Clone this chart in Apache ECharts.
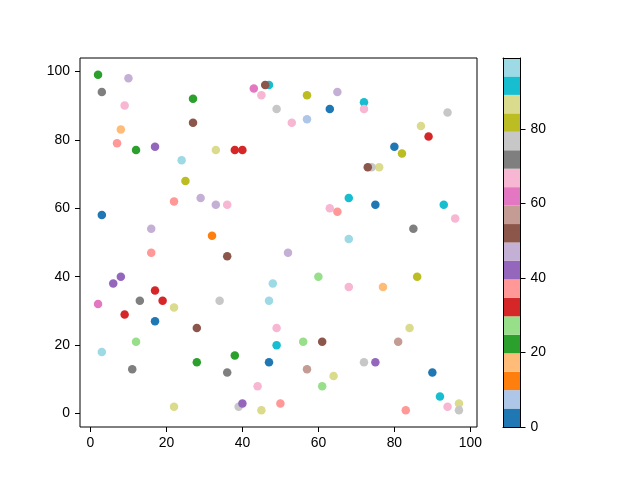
<!DOCTYPE html>
<html>
<head>
<meta charset="utf-8">
<script src="https://cdn.jsdelivr.net/npm/echarts@6/dist/echarts.min.js"></script>
<style>
html, body { margin: 0; padding: 0; background: #fff; }
#chart { width: 640px; height: 480px; }
</style>
</head>
<body>
<div id="chart"></div>
<script>
// scatter points (x, y, colour value 0..99)
var xValues = [2, 3, 10, 9, 27, 8, 27, 7, 12, 17, 33, 24, 25, 22, 29, 33, 3, 16, 32, 43,
               47, 46, 45, 57, 65, 49, 63, 53, 57, 38, 40, 36, 63, 65, 68, 68, 72, 72, 94, 87,
               89, 80, 82, 76, 74, 73, 75, 93, 96, 85, 16, 8, 6, 2, 13, 17, 19, 22, 9, 17,
               28, 34, 12, 3, 11, 28, 22, 36, 52, 60, 48, 68, 47, 49, 49, 56, 61, 38, 47, 36,
               57, 64, 61, 44, 39, 40, 45, 50, 86, 77, 84, 81, 72, 75, 90, 92, 94, 97, 97, 83];
var yValues = [99, 94, 98, 90, 92, 83, 85, 79, 77, 78, 77, 74, 68, 62, 63, 61, 58, 54, 52, 95,
               96, 96, 93, 93, 94, 89, 89, 85, 86, 77, 77, 61, 60, 59, 63, 51, 91, 89, 88, 84,
               81, 78, 76, 72, 72, 72, 61, 61, 57, 54, 47, 40, 38, 32, 33, 36, 33, 31, 29, 27,
               25, 33, 21, 18, 13, 15, 2, 46, 47, 40, 38, 37, 33, 25, 20, 21, 21, 17, 15, 12,
               13, 11, 8, 8, 2, 3, 1, 3, 40, 37, 25, 21, 15, 15, 12, 5, 2, 3, 1, 1];
var colorValues = [22, 72, 47, 67, 22, 17, 52, 37, 22, 42, 87, 97, 82, 37, 47, 47, 2, 47, 12, 62,
                   92, 52, 67, 82, 47, 77, 2, 67, 7, 32, 32, 67, 67, 37, 92, 97, 92, 67, 77, 87,
                   32, 2, 82, 87, 77, 52, 2, 92, 67, 72, 37, 42, 42, 62, 72, 32, 32, 87, 32, 2,
                   52, 77, 27, 97, 72, 22, 87, 52, 47, 27, 97, 67, 97, 67, 92, 27, 52, 22, 2, 72,
                   57, 87, 27, 67, 77, 42, 87, 37, 82, 17, 87, 57, 77, 42, 2, 92, 67, 87, 77, 37];

var xTicks = [0, 20, 40, 60, 80, 100];
var yTicks = [0, 20, 40, 60, 80, 100];
var cbarTicks = [0, 20, 40, 60, 80];
var cMin = 0, cMax = 99;

var tab20 = ['#1f77b4', '#aec7e8', '#ff7f0e', '#ffbb78', '#2ca02c', '#98df8a', '#d62728', '#ff9896',
             '#9467bd', '#c5b0d5', '#8c564b', '#c49c94', '#e377c2', '#f7b6d2', '#7f7f7f', '#c7c7c7',
             '#bcbd22', '#dbdb8d', '#17becf', '#9edae5'];

function colorOf(c) {
    var k = Math.floor((c - cMin) / (cMax - cMin) * tab20.length);
    if (k > tab20.length - 1) k = tab20.length - 1;
    if (k < 0) k = 0;
    return tab20[k];
}

// matplotlib style 5% margins
function padded(arr) {
    var lo = Math.min.apply(null, arr), hi = Math.max.apply(null, arr);
    var m = (hi - lo) * 0.05;
    return [lo - m, hi + m];
}
var xr = padded(xValues), yr = padded(yValues);

var points = [];
for (var i = 0; i < xValues.length; i++) {
    points.push({ value: [xValues[i], yValues[i], colorValues[i]], itemStyle: { color: colorOf(colorValues[i]), opacity: 1 } });
}

var bands = [];
for (var k = 0; k < tab20.length; k++) {
    bands.push([0.5, cMin + (cMax - cMin) * k / tab20.length, cMin + (cMax - cMin) * (k + 1) / tab20.length, k]);
}

var font = { fontFamily: 'Liberation Sans', fontSize: 13.9, color: '#000' };
var line = { show: true, onZero: false, lineStyle: { color: '#000', width: 1 } };
var noLine = { show: false, onZero: false };
var tick = { show: true, length: 5, lineStyle: { color: '#000', width: 1 } };

var chart = echarts.init(document.getElementById('chart'), null, { renderer: 'canvas' });
chart.setOption({
    animation: false,
    backgroundColor: '#fff',
    grid: [
        { left: 80, top: 58, width: 397, height: 369, show: true, borderColor: '#000', borderWidth: 1, backgroundColor: 'transparent' },
        { left: 503, top: 58, width: 17.5, height: 369 }
    ],
    xAxis: [
        {
            gridIndex: 0, type: 'value', min: xr[0], max: xr[1], position: 'bottom',
            axisLine: noLine, splitLine: { show: false },
            axisTick: Object.assign({ customValues: xTicks }, tick),
            axisLabel: Object.assign({ customValues: xTicks, margin: 9 }, font)
        },
        { gridIndex: 1, type: 'value', min: 0, max: 1, position: 'bottom', z: 10,
          axisLine: line, axisTick: { show: false }, axisLabel: { show: false }, splitLine: { show: false } },
        { gridIndex: 1, type: 'value', min: 0, max: 1, position: 'top', z: 10,
          axisLine: line, axisTick: { show: false }, axisLabel: { show: false }, splitLine: { show: false } }
    ],
    yAxis: [
        {
            gridIndex: 0, type: 'value', min: yr[0], max: yr[1], position: 'left',
            axisLine: noLine, splitLine: { show: false },
            axisTick: Object.assign({ customValues: yTicks }, tick),
            axisLabel: Object.assign({ customValues: yTicks, margin: 10 }, font)
        },
        {
            gridIndex: 1, type: 'value', min: cMin, max: cMax, position: 'right', z: 10,
            axisLine: line, splitLine: { show: false },
            axisTick: Object.assign({ customValues: cbarTicks }, tick),
            axisLabel: Object.assign({ customValues: cbarTicks, margin: 10 }, font)
        },
        { gridIndex: 1, type: 'value', min: cMin, max: cMax, position: 'left', z: 10,
          axisLine: line, axisTick: { show: false }, axisLabel: { show: false }, splitLine: { show: false } }
    ],
    series: [
        {
            type: 'scatter',
            xAxisIndex: 0, yAxisIndex: 0,
            symbolSize: 8.5,
            data: points,
            emphasis: { disabled: true },
            silent: true
        },
        {
            type: 'custom',
            xAxisIndex: 1, yAxisIndex: 1,
            encode: { x: 0, y: [1, 2] },
            data: bands,
            silent: true,
            renderItem: function (params, api) {
                var lo = api.coord([0, api.value(1)]);
                var hi = api.coord([1, api.value(2)]);
                return {
                    type: 'rect',
                    shape: { x: lo[0], y: hi[1], width: hi[0] - lo[0], height: lo[1] - hi[1] },
                    style: { fill: tab20[api.value(3)] }
                };
            }
        }
    ]
});
</script>
</body>
</html>
